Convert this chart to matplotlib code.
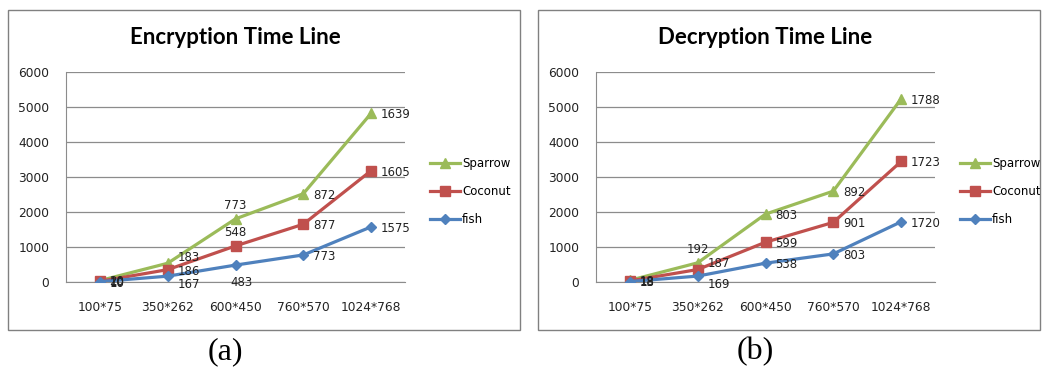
import matplotlib.pyplot as plt
from matplotlib.patches import Rectangle

sizes = ["100*75", "350*262", "600*450", "760*570", "1024*768"]
series = ["Sparrow", "Coconut", "fish"]

enc_fish = [10, 167, 483, 773, 1575]
enc_coconut = [10, 186, 548, 877, 1605]
enc_sparrow = [20, 183, 773, 872, 1639]

dec_fish = [13, 169, 538, 803, 1720]
dec_coconut = [18, 187, 599, 901, 1723]
dec_sparrow = [18, 192, 803, 892, 1788]

colors = {"Sparrow": "#9BBB59", "Coconut": "#C0504D", "fish": "#4F81BD"}
markers = {"Sparrow": "^", "Coconut": "s", "fish": "D"}
msize = {"Sparrow": 7, "Coconut": 7, "fish": 5}

# where each data label sits: 'r' right, 'a' above, 'b' below,
# 'u'/'d' right but nudged up/down a little
enc_pos = {"fish": "rdbrr", "Coconut": "rrarr", "Sparrow": "ruarr"}
dec_pos = {"fish": "rdrrr", "Coconut": "rurrr", "Sparrow": "rarrr"}

FONT = "DejaVu Sans"


def stacked_chart(ax, title, fish, coconut, sparrow, pos):
    vals = {"fish": fish, "Coconut": coconut, "Sparrow": sparrow}
    x = list(range(len(sizes)))
    base = [0] * len(sizes)
    tops = {}
    for name in ["fish", "Coconut", "Sparrow"]:
        top = [b + v for b, v in zip(base, vals[name])]
        tops[name] = top
        base = top
    for name in series:
        ax.plot(x, tops[name], color=colors[name], marker=markers[name],
                ms=msize[name], lw=2.3, label=name, zorder=3)
    for name in ["fish", "Coconut", "Sparrow"]:
        for i in x:
            p = pos[name][i]
            if p == "r":
                off, ha, va = (7, -1), "left", "center"
            elif p == "u":
                off, ha, va = (7, 4), "left", "center"
            elif p == "d":
                off, ha, va = (7, -6), "left", "center"
            elif p == "a":
                off, ha, va = (0, 5), "center", "bottom"
            else:
                off, ha, va = (4, -8), "center", "top"
            ax.annotate(str(vals[name][i]), (i, tops[name][i]), xytext=off,
                        textcoords="offset points", ha=ha, va=va,
                        fontsize=8.5, color="#222222", zorder=4)
    ax.set_xlim(-0.5, len(sizes) - 0.5)
    ax.set_ylim(0, 6000)
    ax.set_yticks(range(0, 6001, 1000))
    ax.set_xticks(x)
    ax.set_xticklabels(sizes)
    ax.yaxis.grid(True, color="#8c8c8c", lw=0.9)
    ax.set_axisbelow(True)
    for s in ["top", "right"]:
        ax.spines[s].set_visible(False)
    for s in ["left", "bottom"]:
        ax.spines[s].set_color("#8c8c8c")
    ax.tick_params(axis="both", labelsize=8.8, length=0, colors="#222222")
    ax.tick_params(axis="x", pad=14)
    ax.tick_params(axis="y", pad=12)
    ax.legend(loc="center left", bbox_to_anchor=(1.06, 0.43), frameon=False,
              fontsize=8.5, labelspacing=1.25, handlelength=2.5,
              handletextpad=0.2, borderaxespad=0)
    ax.set_title(title, fontsize=16, fontweight="bold", pad=20,
                 family="Lato")


plt.rcParams["font.family"] = FONT
fig = plt.figure(figsize=(10.43, 3.72), dpi=100)
W, H = 1043, 372

fig.patches.append(Rectangle((8 / W, 1 - 330 / H), 512 / W, 320 / H,
                             transform=fig.transFigure, fill=False,
                             ec="#808080", lw=1))
fig.patches.append(Rectangle((538 / W, 1 - 330 / H), 502 / W, 320 / H,
                             transform=fig.transFigure, fill=False,
                             ec="#808080", lw=1))

ax1 = fig.add_axes([66 / W, 1 - 282 / H, 339 / W, 210 / H])
ax2 = fig.add_axes([596 / W, 1 - 282 / H, 339 / W, 210 / H])

stacked_chart(ax1, "Encryption Time Line", enc_fish, enc_coconut, enc_sparrow, enc_pos)
stacked_chart(ax2, "Decryption Time Line", dec_fish, dec_coconut, dec_sparrow, dec_pos)

fig.text(225 / W, 1 - 352 / H, "(a)", ha="center", va="center",
         fontsize=23, family="Liberation Serif")
fig.text(755 / W, 1 - 352 / H, "(b)", ha="center", va="center",
         fontsize=23, family="Liberation Serif")

fig.savefig("out.png", dpi=100)
